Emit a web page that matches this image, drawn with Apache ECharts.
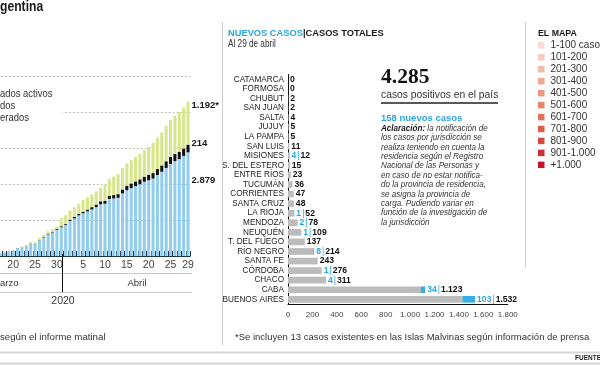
<!DOCTYPE html>
<html><head><meta charset="utf-8">
<script src="https://cdn.jsdelivr.net/npm/echarts@6/dist/echarts.min.js"></script>
<style>html,body{margin:0;padding:0;background:#fff}#c{width:600px;height:365px}</style>
</head><body><div id="c"></div>
<script>
// ---------- Left chart: cumulative cases, Argentina ----------
const dates = ['3/3','4/3','5/3','6/3','7/3','8/3','9/3','10/3','11/3','12/3','13/3','14/3','15/3','16/3','17/3','18/3','19/3','20/3','21/3','22/3','23/3','24/3','25/3','26/3','27/3','28/3','29/3','30/3','31/3',
  '1/4','2/4','3/4','4/4','5/4','6/4','7/4','8/4','9/4','10/4','11/4','12/4','13/4','14/4','15/4','16/4','17/4','18/4','19/4','20/4','21/4','22/4','23/4','24/4','25/4','26/4','27/4','28/4','29/4'];
const activos = [1,1,2,8,8,11,16,18,20,30,32,43,54,63,77,94,125,152,218,235,270,329,329,431,513,600,654,725,799,
  857,972,1045,1129,1185,1242,1294,1358,1437,1452,1584,1598,1617,1739,1829,1887,1941,1994,2062,2104,2152,2250,2340,2446,2558,2635,2691,2780,2879];
const fallecidos = [0,0,0,0,1,1,1,1,1,1,2,2,2,2,2,3,3,3,4,4,4,6,6,8,13,18,19,23,27,
  28,37,42,43,44,48,63,72,82,83,90,95,101,108,122,129,132,136,142,147,152,165,176,185,192,197,205,207,214];
const recuperados = [0,0,0,0,0,0,0,0,0,0,0,0,0,0,0,0,0,3,3,27,27,52,52,63,63,72,72,72,228,
  248,256,266,279,325,338,358,365,375,440,468,515,559,596,620,653,685,709,737,780,840,873,919,976,1030,1060,1107,1140,1192];
const xTicksShown = ['5/3','10/3','15/3','20/3','25/3','30/3','5/4','10/4','15/4','20/4','25/4','29/4'];
const lastLabels = ['2.879','214','1.192*'];

// ---------- Right chart: by province ----------
const provincias = ['CATAMARCA','FORMOSA','CHUBUT','SAN JUAN','SALTA','JUJUY','LA PAMPA','SAN LUIS','MISIONES','S. DEL ESTERO','ENTRE RÍOS','TUCUMÁN','CORRIENTES','SANTA CRUZ','LA RIOJA','MENDOZA','NEUQUÉN','T. DEL FUEGO','RÍO NEGRO','SANTA FE','CÓRDOBA','CHACO','CABA','BUENOS AIRES'];
const casosTotales = [0,0,2,2,4,5,5,11,12,15,23,36,47,48,52,78,109,137,214,243,276,311,1123,1532];
const nuevosCasos  = [0,0,0,0,0,0,0,0,4,0,0,0,0,0,1,2,1,0,8,0,1,4,34,103];

// ---------- Map legend ----------
const mapaRangos = ['1-100 casos','101-200','201-300','301-400','401-500','501-600','601-700','701-800','801-900','901-1.000','+1.000'];
const mapaColores = ['#f7ddd5','#f4cbbd','#f1b9a6','#eea891','#eb977d','#e78569','#e17258','#da5f4b','#d34a40','#cb3238','#c3142f'];

const FONT = "'Liberation Sans',Arial,sans-serif";
const fmt = n => String(n).replace(/\B(?=(\d{3})+(?!\d))/g,'.');

const BLUE_L = '#93cdee', GREEN_L = '#d7e68c', BLK = '#111111';
const GRAY = '#bcbcbc', CYAN = '#35b0e6', CYAN_T = '#2aa6de';
const last = dates.length - 1;

function withLast(arr, idx, offY) {
  return arr.map((v, i) => i === last ? {value: v, label: {show: true, position: 'right', distance: 2, offset: [0, offY],
    formatter: lastLabels[idx], fontFamily: FONT, fontWeight: 'bold', fontSize: 9.5, color: '#1a1a1a'}} : v);
}

const chart = echarts.init(document.getElementById('c'), null, {renderer: 'canvas'});

const gText = (x, y, text, size, opts = {}, sx = 1) => ({type: 'text', z: 100, x, y, scaleX: sx,
  style: Object.assign({text, fontFamily: FONT, fontSize: size, fill: '#333', textVerticalAlign: 'middle'}, opts)});
const gLine = (x1, y1, x2, y2, stroke, lw) => ({type: 'line', z: 100, shape: {x1, y1, x2, y2}, style: {stroke, lineWidth: lw}});

const graphics = [
  gText(0, 7, 'gentina', 15, {fontWeight: 'bold', fill: '#1a1a1a'}, 0.81),
  {type: 'rect', z: 99, shape: {x: 0, y: 88, width: 62, height: 34}, style: {fill: '#fff'}},
  gText(0, 94.5, 'ados activos', 10.5, {fill: '#333'}, 0.9),
  gText(0, 106.5, 'dos', 10.5, {fill: '#333'}, 0.9),
  gText(0, 118, 'erados', 10.5, {fill: '#333'}, 0.9),
  gLine(0, 273.5, 192, 273.5, '#c8c8c8', 1),
  gLine(0, 292.5, 192, 292.5, '#c8c8c8', 1),
  gLine(62.5, 254, 62.5, 292, '#111', 1),
  gText(0, 283, 'arzo', 9.5, {fill: '#333'}),
  gText(137, 283, 'Abril', 9.5, {fill: '#333', textAlign: 'center'}),
  gText(63, 301, '2020', 10.5, {fill: '#333', textAlign: 'center'}),
  gText(0, 337, 'según el informe matinal', 9.7, {fill: '#333'}),
  // separators
  gLine(222.5, 22, 222.5, 345, '#cfcfcf', 1),
  gLine(525.5, 22, 525.5, 268, '#cfcfcf', 1),
  gLine(0, 352.5, 600, 352.5, '#d6d6d6', 2),
  gLine(0, 363.5, 600, 363.5, '#d6d6d6', 2),
  gText(575, 358, 'FUENTE', 6.5, {fontWeight: 'bold', fill: '#222'}),
  // header right
  {type: 'text', z: 100, x: 228, y: 33, style: {rich: {a: {fontFamily: FONT, fontWeight: 'bold', fontSize: 9.3, fill: CYAN_T, color: CYAN_T},
      b: {fontFamily: FONT, fontWeight: 'bold', fontSize: 9.3, fill: '#1a1a1a', color: '#1a1a1a'}},
      text: '{a|NUEVOS CASOS}{b||CASOS TOTALES}', textVerticalAlign: 'middle'}},
  gText(228, 44, 'Al 29 de abril', 10, {fill: '#333'}, 0.82),
  // big number block
  {type: 'text', z: 100, x: 381, y: 77, style: {text: '4.285', fontFamily: "'Liberation Serif',serif", fontWeight: 'bold', fontSize: 21.5, fill: '#111', textVerticalAlign: 'middle'}},
  gText(381, 95, 'casos positivos en el país', 10.3, {fill: '#333'}),
  gLine(381, 103, 498, 103, '#222', 1.5),
  gText(381, 118, '158 nuevos casos', 9.5, {fontWeight: 'bold', fill: CYAN_T}),
  gText(235, 337, '*Se incluyen 13 casos existentes en las Islas Malvinas según información de prensa', 9.5, {fill: '#333'}),
  // map legend
  gText(538, 34, 'EL MAPA', 8.8, {fontWeight: 'bold', fill: '#1a1a1a'})
];
const parrafo = ['{b|Aclaración:} la notificación de','los casos por jurisdicción se','realiza teniendo en cuenta la','residencia según el Registro','Nacional de las Personas y','en caso de no estar notifica-','do la provincia de residencia,','se asigna la provincia de','carga. Pudiendo variar en','función de la investigación de','la jurisdicción'];
parrafo.forEach((t, i) => graphics.push({type: 'text', z: 100, x: 381, y: 128.5 + i * 9.37, scaleX: 0.9, style: {
  text: t, textVerticalAlign: 'middle', fontFamily: FONT, fontStyle: 'italic', fontSize: 9, fill: '#333',
  rich: {b: {fontFamily: FONT, fontStyle: 'italic', fontWeight: 'bold', fontSize: 9, fill: '#1a1a1a'}}}}));
mapaRangos.forEach((t, i) => {
  const y = 45.3 + i * 11.95;
  graphics.push({type: 'rect', z: 100, shape: {x: 538, y: y - 3.2, width: 6.5, height: 6.5}, style: {fill: mapaColores[i]}});
  graphics.push({type: 'text', z: 100, x: 550.5, y, style: {text: t, fontFamily: FONT, fontSize: 10, fill: '#333', textVerticalAlign: 'middle'}});
});

const option = {
  animation: false,
  backgroundColor: '#fff',
  grid: [
    {left: -63.3, right: 409.8, top: 76, bottom: 109, outerBoundsMode: 'none', containLabel: false},
    {left: 288, right: 92.2, top: 74.5, bottom: 60.9, outerBoundsMode: 'none', containLabel: false}
  ],
  xAxis: [
    {type: 'category', gridIndex: 0, data: dates,
      axisLine: {show: true, lineStyle: {color: '#1c3550', width: 1}},
      axisTick: {show: true, interval: 0, inside: true, length: 5, lineStyle: {color: '#1c3550', width: 1}},
      axisLabel: {interval: (i, v) => xTicksShown.includes(v), formatter: v => v.split('/')[0],
        fontFamily: FONT, fontSize: 10.5, color: '#444', margin: 4, hideOverlap: false}},
    {type: 'value', gridIndex: 1, min: 0, max: 1800, interval: 200,
      axisLine: {show: true, lineStyle: {color: '#111', width: 1}}, axisTick: {show: false}, splitLine: {show: false},
      axisLabel: {formatter: v => fmt(v), fontFamily: FONT, fontSize: 8, color: '#444', margin: 7, hideOverlap: false}}
  ],
  yAxis: [
    {type: 'value', gridIndex: 0, min: 0, max: 5000, interval: 1000,
      axisLine: {show: false}, axisTick: {show: false}, axisLabel: {show: false},
      splitLine: {show: true, lineStyle: {color: '#bdbdbd', type: [2, 2], width: 1}}},
    {type: 'category', gridIndex: 1, data: provincias, inverse: true,
      axisLine: {show: true, lineStyle: {color: '#111', width: 1}}, axisTick: {show: false},
      axisLabel: {interval: 0, fontFamily: FONT, fontSize: 8.2, color: '#222', margin: 4}}
  ],
  series: [
    {type: 'bar', xAxisIndex: 0, yAxisIndex: 0, stack: 'a', data: withLast(activos, 0, -24),
      itemStyle: {color: BLUE_L}, barCategoryGap: '30%'},
    {type: 'bar', xAxisIndex: 0, yAxisIndex: 0, stack: 'a', data: withLast(fallecidos, 1, -5.5),
      itemStyle: {color: BLK}},
    {type: 'bar', xAxisIndex: 0, yAxisIndex: 0, stack: 'a', data: withLast(recuperados, 2, -18),
      itemStyle: {color: GREEN_L}},
    {type: 'bar', xAxisIndex: 1, yAxisIndex: 1, stack: 'p', data: casosTotales.map((t, i) => t - nuevosCasos[i]),
      itemStyle: {color: GRAY}, barCategoryGap: '30%'},
    {type: 'bar', xAxisIndex: 1, yAxisIndex: 1, stack: 'p', data: nuevosCasos,
      itemStyle: {color: CYAN},
      label: {show: true, position: 'right', distance: 2,
        formatter: p => nuevosCasos[p.dataIndex] > 0 ? `{n|${nuevosCasos[p.dataIndex]}}{s||}{t|${fmt(casosTotales[p.dataIndex])}}` : `{t|${fmt(casosTotales[p.dataIndex])}}`,
        rich: {n: {fontFamily: FONT, fontWeight: 'bold', fontSize: 8.6, color: CYAN_T},
               s: {fontFamily: FONT, fontSize: 8.6, color: CYAN_T, padding: [0, 1]},
               t: {fontFamily: FONT, fontWeight: 'bold', fontSize: 8.6, color: '#111'}}}}
  ],
  graphic: graphics
};
chart.setOption(option);
</script></body></html>
